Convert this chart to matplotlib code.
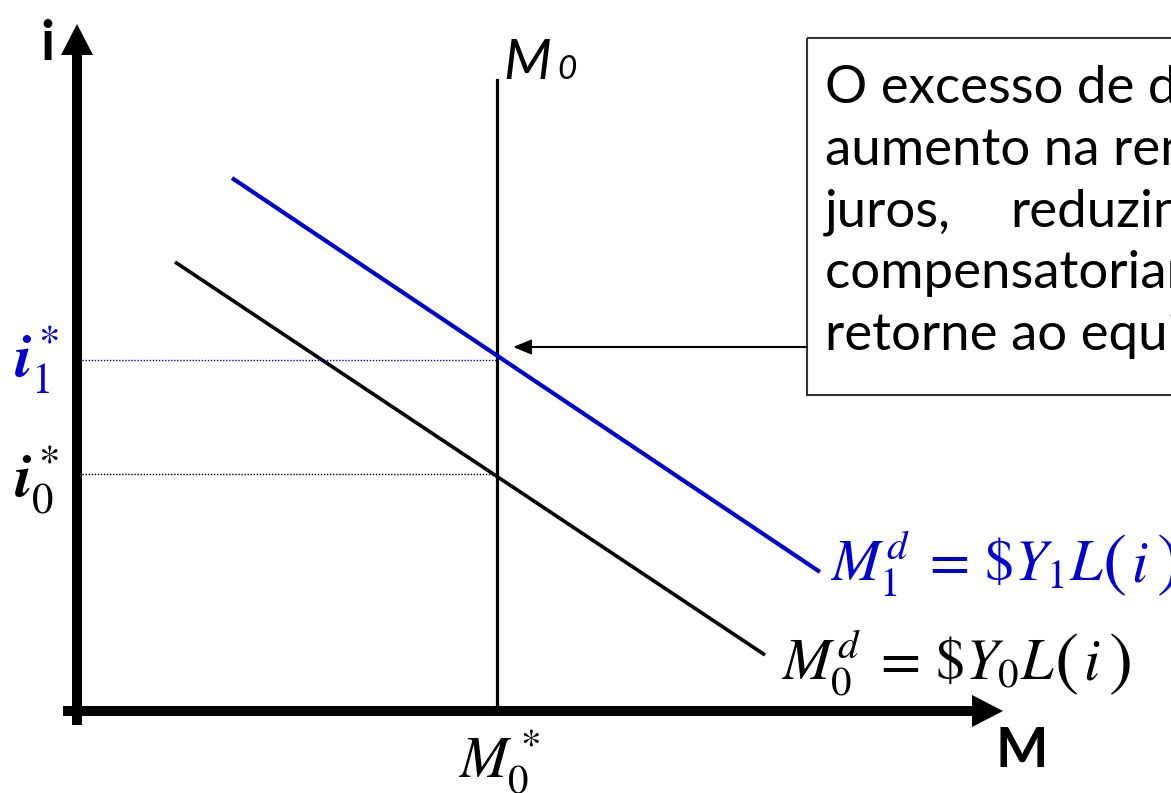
import numpy as np
import matplotlib
matplotlib.use("Agg")
import matplotlib.pyplot as plt
from matplotlib.patches import Rectangle

plt.rcParams['mathtext.fontset'] = 'stix'

# diagram geometry (pixel-like units, y grows downward)
md0_x = [175, 765]
md0_y = [262, 655]
md1_x = [232, 820]
md1_y = [178, 572]
m0_star = 497
m0_top = 80
i0_star = 474
i1_star = 360
axis_origin = (77, 711)
x_axis_end = 1003
y_axis_end = 24

box_lines = ["O excesso de demanda por moeda causado pelo",
             "aumento na renda pressiona para cima a taxa de",
             None,
             "compensatoriamente a demanda por moeda até que o mercado",
             "retorne ao equilíbrio."]
box_line3 = ["juros,", "reduzindo"]
box_baselines = [103, 165, 227, 288, 350]

blue = '#0000d0'

fig = plt.figure(figsize=(11.71, 7.93), dpi=100)
ax = fig.add_axes([0, 0, 1, 1])
ax.set_xlim(0, 1171)
ax.set_ylim(793, 0)
ax.axis('off')

# axes with arrows
ax.arrow(axis_origin[0], 725, 0, y_axis_end - 725, width=10, head_width=32,
         head_length=31, length_includes_head=True, color='black', lw=0)
ax.arrow(63, axis_origin[1], x_axis_end - 63, 0, width=10, head_width=32,
         head_length=31, length_includes_head=True, color='black', lw=0)

# money supply
ax.plot([m0_star, m0_star], [m0_top, axis_origin[1]], color='black', lw=2.3)

# money demand curves
ax.plot(md0_x, md0_y, color='black', lw=2.6, solid_capstyle='butt')
ax.plot(md1_x, md1_y, color=blue, lw=3.0, solid_capstyle='butt')

# dotted guides
ax.plot([82, m0_star], [i1_star, i1_star], color=blue, lw=1.0, ls=(0, (1, 1.2)))
ax.plot([82, m0_star], [i0_star, i0_star], color='black', lw=1.0, ls=(0, (1, 1.2)))

# axis labels
ax.text(47, 60, 'i', fontfamily='Lato', fontweight='bold', fontsize=40,
        ha='center', va='baseline')
ax.text(995, 767, 'M', fontfamily='Lato', fontweight='bold', fontsize=40,
        ha='left', va='baseline')
ax.text(503, 79, 'M', fontfamily='Lato', fontstyle='italic', fontsize=40,
        ha='left', va='baseline')
ax.text(557, 79, '0', fontfamily='Lato', fontstyle='italic', fontsize=24,
        ha='left', va='baseline')

ax.text(14, 378, r'$\mathbfit{i}_1^*$', color=blue, fontsize=44, va='baseline')
ax.text(14, 497, r'$\mathbfit{i}_0^*$', color='black', fontsize=44, va='baseline')
ax.text(458, 778, r'$M_0^*$', color='black', fontsize=42, va='baseline',
        clip_on=True)

# demand curve labels
for lab, col, x0, yb, xp in [(r'$M_1^d\;=\,\$Y_1L$', blue, 830, 581, 1102),
                             (r'$M_0^d\;=\,\$Y_0L$', 'black', 781, 680, 1054)]:
    ax.text(x0, yb, lab, color=col, fontsize=42, va='baseline', clip_on=True)
    ax.text(xp, yb - 14, '(', color=col, fontfamily='STIXGeneral', fontsize=52,
            va='center', ha='left', clip_on=True)
    ax.text(xp + 29, yb, r'$i$', color=col, fontsize=42, va='baseline',
            ha='left', clip_on=True)
    ax.text(xp + 55, yb - 14, ')', color=col, fontfamily='STIXGeneral', fontsize=52,
            va='center', ha='left', clip_on=True)

# text box
ax.add_patch(Rectangle((807, 38), 600, 357, fill=False, edgecolor='#333333',
                       lw=1.5, clip_on=True))
for k, txt in enumerate(box_lines):
    if txt is None:
        continue
    ax.text(825, box_baselines[k], txt, fontfamily='Lato', fontsize=38,
            va='baseline', ha='left', clip_on=True)
ax.text(825, box_baselines[2], box_line3[0], fontfamily='Lato', fontsize=38,
        va='baseline', ha='left', clip_on=True)
ax.text(1010, box_baselines[2], box_line3[1], fontfamily='Lato', fontsize=38,
        va='baseline', ha='left', clip_on=True)

# arrow from box to new equilibrium
ax.annotate('', xy=(513, 347), xytext=(807, 347),
            arrowprops=dict(arrowstyle='-|>,head_length=1.1,head_width=0.45',
                            mutation_scale=10, color='black', lw=1.5,
                            shrinkA=0, shrinkB=0))

fig.savefig('out.png', dpi=100)
